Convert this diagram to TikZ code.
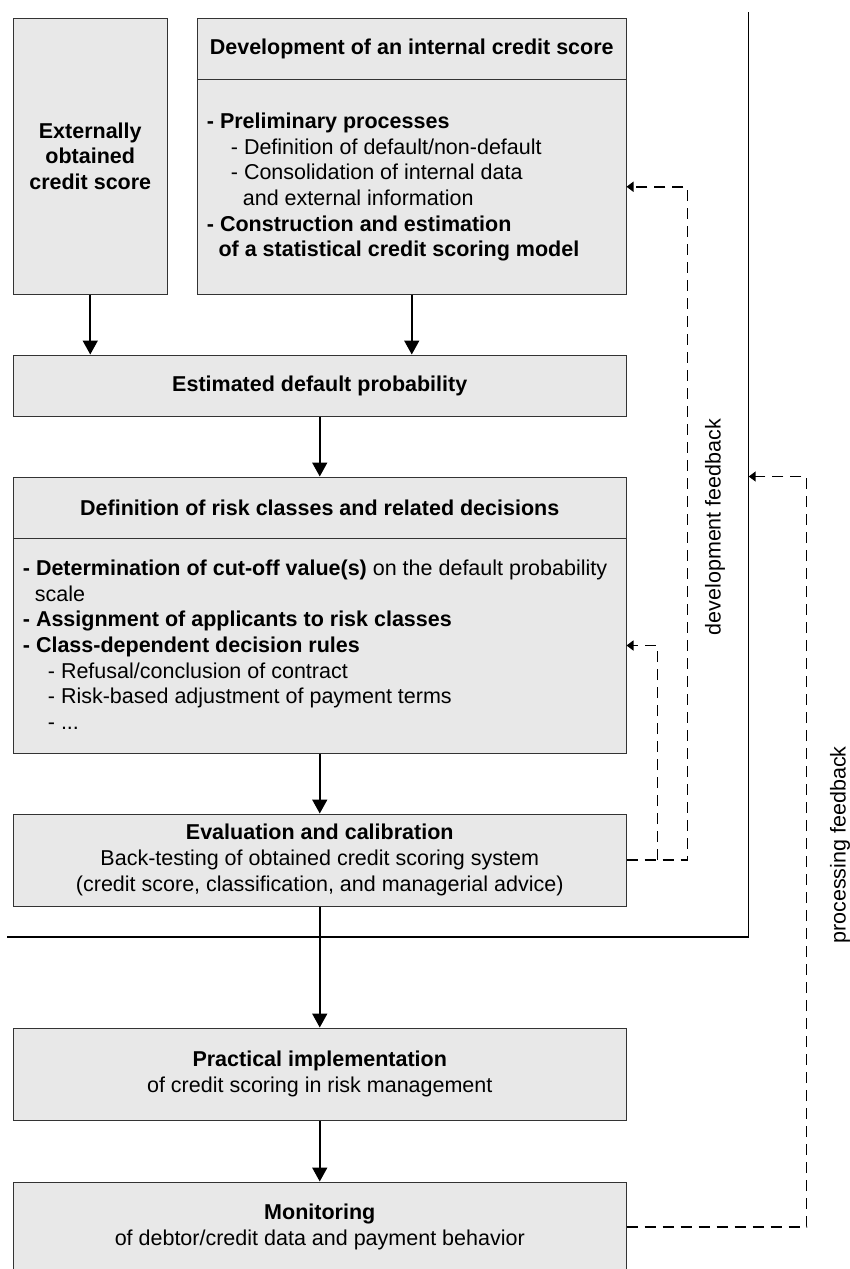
\documentclass[tikz,border=0pt]{standalone}
\usepackage{fontspec}
\setmainfont{Liberation Sans}
\usetikzlibrary{arrows.meta}
\definecolor{boxfill}{HTML}{E8E8E8}
\definecolor{boxline}{HTML}{333333}
\begin{document}
\begin{tikzpicture}[x=1pt,y=-1pt,
  font=\fontsize{21.5}{25.7}\selectfont,
  box/.style={draw=boxline, line width=1pt, fill=boxfill, inner sep=0pt, align=center, minimum width=612.5pt},
  bodytext/.style={anchor=north west, inner sep=0pt, align=left},
  flow/.style={line width=1.8pt, -{Triangle[length=14pt,width=15pt]}},
  fb/.style={line width=1.5pt, dash pattern=on 11pt off 7pt, -{Triangle[length=7pt,width=10pt]}},
  frameline/.style={line width=1.5pt},
  lbl/.style={rotate=90, inner sep=0pt}]
\useasboundingbox (0,0) rectangle (850,1269);
% boxes
\node[box, minimum width=153.5pt, minimum height=275.5pt] (ext) at (90.25,156.25)
  {\bfseries Externally\\\bfseries obtained\\\bfseries credit score};
\node[box, minimum width=428.5pt, minimum height=61pt] (devhead) at (411.75,49)
  {\bfseries Development of an internal credit score};
\node[box, minimum width=428.5pt, minimum height=214.5pt] (devbody) at (411.75,186.75) {};
\node[box, minimum height=61pt] (est) at (319.75,385.5)
  {\bfseries Estimated default probability};
\node[box, minimum height=61pt] (defhead) at (319.75,507.5)
  {\bfseries Definition of risk classes and related decisions};
\node[box, minimum height=215pt] (defbody) at (319.75,645.5) {};
\node[box, minimum height=92pt] (evalbox) at (319.75,860)
  {\textbf{Evaluation and calibration}\\Back-testing of obtained credit scoring system\\(credit score, classification, and managerial advice)};
\node[box, minimum height=92pt] (impl) at (319.75,1074)
  {\textbf{Practical implementation}\\of credit scoring in risk management};
\node[box, minimum height=90pt] (mon) at (319.75,1227)
  {\textbf{Monitoring}\\of debtor/credit data and payment behavior};
% body texts
\node[bodytext] (devtext) at (206.7,112.6)
  {\textbf{- Preliminary processes}\\
   \hspace*{24pt}- Definition of default/non-default\\
   \hspace*{24pt}- Consolidation of internal data\\
   \hspace*{36pt}and external information\\
   \textbf{- Construction and estimation}\\
   \hspace*{11.6pt}\textbf{of a statistical credit scoring model}};
\node[bodytext] (deftext) at (22.7,559.6)
  {\textbf{- Determination of cut-off value(s)} on the default probability\\
   \hspace*{12pt}scale\\
   \textbf{- Assignment of applicants to risk classes}\\
   \textbf{- Class-dependent decision rules}\\
   \hspace*{25pt}- Refusal/conclusion of contract\\
   \hspace*{25pt}- Risk-based adjustment of payment terms\\
   \hspace*{25pt}- ...};
% main flow
\draw[flow] (ext.south) -- (ext.south |- est.north);
\draw[flow] (devbody.south) -- (devbody.south |- est.north);
\draw[flow] (est.south) -- (defhead.north);
\draw[flow] (defbody.south) -- (evalbox.north);
\draw[flow] (evalbox.south) -- (impl.north);
\draw[flow] (impl.south) -- (mon.north);
% development frame
\coordinate (ftop) at (748.7,12);
\coordinate (fcorner) at (748.7,937);
\coordinate (fleft) at (7,937);
\draw[frameline] (ftop) -- (fcorner) -- (fleft);
% feedback loops
\coordinate (devx) at (687.3,0);
\coordinate (defx) at (657.3,0);
\coordinate (procx) at (806.7,0);
\draw[fb] (evalbox.east) -- (evalbox.east -| devx) |- (devbody.east);
\draw[fb] (evalbox.east -| defx) |- (defbody.east);
\draw[fb] (mon.east) -- (mon.east -| procx) |- (ftop |- defhead.north);
% labels
\node[lbl] (devlbl) at (715,527) {development feedback};
\node[lbl] (proclbl) at (840,845) {processing feedback};
\end{tikzpicture}
\end{document}
